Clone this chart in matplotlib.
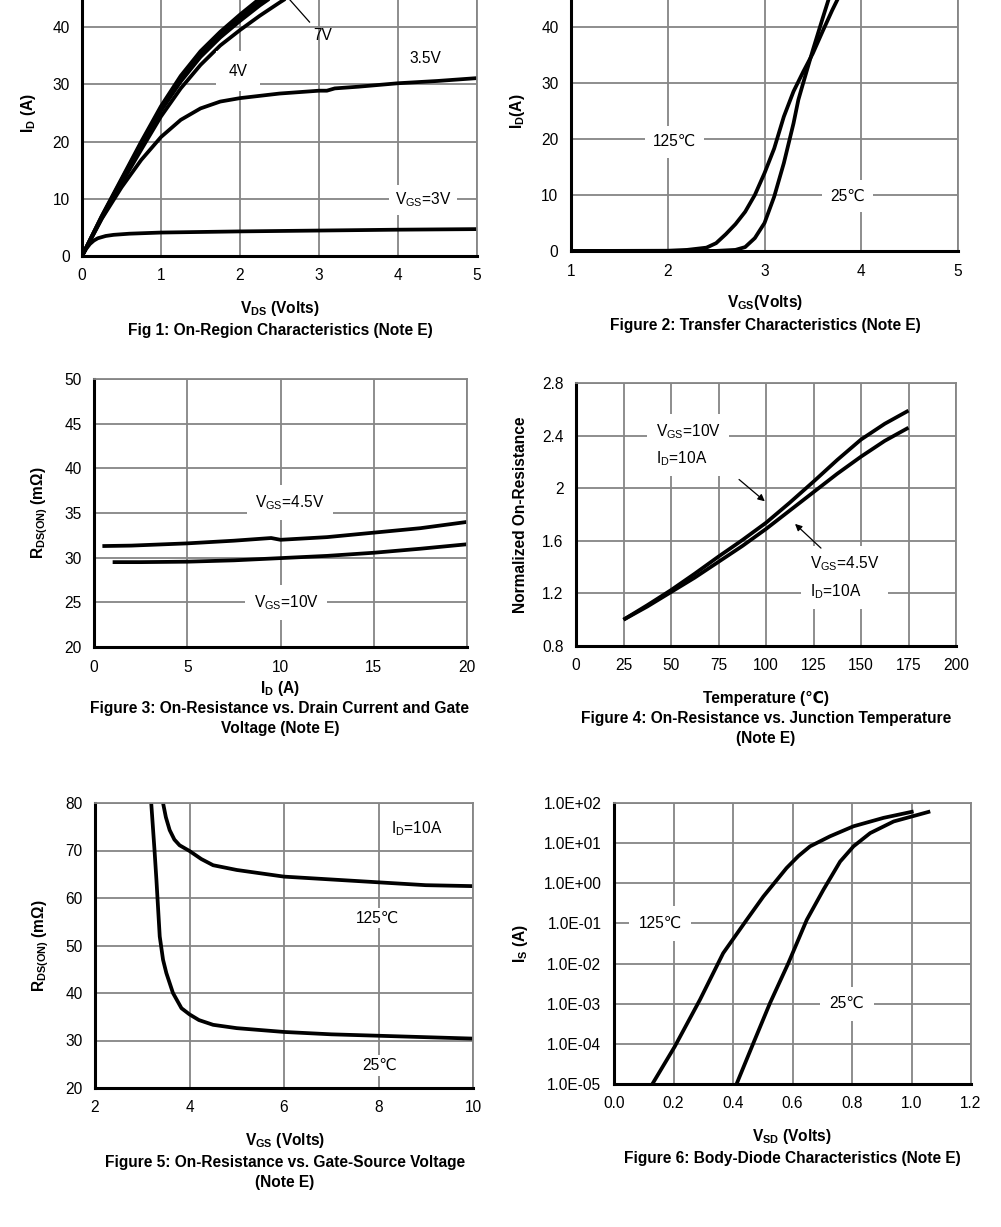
import numpy as np
import matplotlib
matplotlib.use("Agg")
from matplotlib import pyplot as plt

plt.rcParams['font.family'] = ['Liberation Sans', 'DejaVu Sans']
plt.rcParams['mathtext.fontset'] = 'custom'
plt.rcParams['mathtext.rm'] = 'Liberation Sans'
plt.rcParams['mathtext.bf'] = 'Liberation Sans:bold'
plt.rcParams['mathtext.it'] = 'Liberation Sans'

# Fig 1: on-region characteristics
vds1 = [0, 0.25, 0.5, 0.75, 1.0, 1.25, 1.5, 1.75, 2.0, 2.25, 2.5, 2.75, 3.0]
id_10v = [0, 7.0, 13.5, 20.0, 26.2, 31.5, 35.8, 39.2, 42.2, 45.0, 47.4, 49.5, 51.0]
id_7v = [0, 6.9, 13.3, 19.7, 25.8, 31.0, 35.3, 38.8, 41.7, 44.4, 46.8, 49.0, 50.6]
id_45v = [0, 6.8, 13.1, 19.4, 25.4, 30.5, 34.8, 38.2, 41.1, 43.8, 46.2, 48.4, 50.2]
id_4v = [0, 6.6, 12.7, 18.6, 24.4, 29.3, 33.4, 36.8, 39.5, 42.0, 44.3, 46.5, 48.5]
vds_35 = [0, 0.25, 0.5, 0.75, 1.0, 1.25, 1.5, 1.75, 2.0, 2.5, 3.0, 3.1, 3.2, 3.5, 4.0, 4.5, 5.0]
id_35v = [0, 6.5, 12.0, 16.8, 20.8, 23.8, 25.8, 27.0, 27.6, 28.4, 28.9, 28.9, 29.3, 29.6, 30.2, 30.6, 31.1]
vds_3 = [0, 0.05, 0.1, 0.15, 0.2, 0.3, 0.4, 0.6, 1.0, 2.0, 3.0, 4.0, 5.0]
id_3v = [0, 1.2, 2.1, 2.7, 3.1, 3.5, 3.7, 3.9, 4.1, 4.3, 4.45, 4.6, 4.7]

# Fig 2: transfer characteristics
vgs2_125 = [1.0, 2.0, 2.2, 2.4, 2.5, 2.6, 2.7, 2.8, 2.9, 3.0, 3.1, 3.2, 3.3, 3.4, 3.5, 3.6, 3.7, 3.8]
id2_125 = [0, 0.05, 0.2, 0.6, 1.4, 3.0, 4.8, 7.0, 10.0, 13.9, 18.3, 24.0, 28.5, 32.0, 35.3, 39.2, 43.0, 46.5]
vgs2_25 = [1.0, 2.5, 2.7, 2.8, 2.9, 3.0, 3.1, 3.2, 3.3, 3.35, 3.4, 3.5, 3.6, 3.7]
id2_25 = [0, 0.02, 0.2, 0.7, 2.3, 5.0, 9.7, 15.7, 22.8, 27.0, 30.0, 35.9, 41.5, 47.0]

# Fig 3: Rds(on) vs drain current
id3_45 = [0.45, 2, 5, 7.5, 9.5, 10, 12.5, 15, 17.5, 20]
r3_45 = [31.3, 31.35, 31.6, 31.9, 32.2, 32.0, 32.3, 32.8, 33.3, 34.0]
id3_10 = [1, 2.5, 5, 7.5, 10, 12.5, 15, 17.5, 20]
r3_10 = [29.5, 29.5, 29.55, 29.7, 29.95, 30.2, 30.55, 31.0, 31.5]

# Fig 4: normalized Rds(on) vs temperature
temp4 = [25, 37.5, 50, 62.5, 75, 87.5, 100, 112.5, 125, 137.5, 150, 162.5, 175]
rn_10v = [1.0, 1.11, 1.225, 1.35, 1.48, 1.605, 1.737, 1.89, 2.05, 2.215, 2.37, 2.49, 2.59]
rn_45v = [1.0, 1.10, 1.21, 1.32, 1.44, 1.56, 1.69, 1.83, 1.97, 2.11, 2.24, 2.36, 2.46]

# Fig 5: Rds(on) vs gate-source voltage
vgs5_25 = [3.19, 3.26, 3.30, 3.37, 3.44, 3.51, 3.65, 3.83, 4.0, 4.2, 4.5, 5.0, 6.0, 7.0, 8.0, 9.0, 10.0]
r5_25 = [80, 70, 63.8, 51.9, 47.0, 44.2, 40.0, 36.8, 35.5, 34.3, 33.3, 32.6, 31.8, 31.3, 31.0, 30.7, 30.4]
vgs5_125 = [3.44, 3.5, 3.58, 3.68, 3.79, 4.0, 4.25, 4.5, 5.0, 6.0, 7.0, 8.0, 9.0, 10.0]
r5_125 = [80, 77, 74.3, 72.3, 71.1, 69.9, 68.2, 66.9, 65.9, 64.5, 63.9, 63.3, 62.7, 62.5]

# Fig 6: body diode (log10 of Is)
vsd6_125 = [0.129, 0.204, 0.289, 0.367, 0.446, 0.502, 0.580, 0.620, 0.659, 0.726, 0.805, 0.906, 1.007]
logis_125 = [-5.0, -4.07, -2.9, -1.74, -0.91, -0.33, 0.38, 0.68, 0.92, 1.17, 1.42, 1.63, 1.79]
vsd6_25 = [0.412, 0.468, 0.524, 0.586, 0.648, 0.704, 0.760, 0.805, 0.861, 0.940, 1.063]
logis_25 = [-5.0, -3.99, -2.99, -1.99, -0.91, -0.16, 0.54, 0.92, 1.25, 1.54, 1.79]

W, H = 1001, 1227
fig = plt.figure(figsize=(W / 100, H / 100), dpi=100)

GRID = '#858585'
LW = 2.7
FS = 11.2
box = dict(facecolor='white', edgecolor='none', pad=4)


def make_ax(l, t, r, b, xlim, ylim, xticks, yticks, log=False):
    ax = fig.add_axes([l / W, 1 - b / H, (r - l) / W, (b - t) / H])
    if log:
        ax.set_yscale('log')
    ax.set_xlim(*xlim)
    ax.set_ylim(*ylim)
    ax.set_xticks(xticks)
    ax.set_yticks(yticks)
    ax.minorticks_off()
    ax.grid(True, color=GRID, lw=1.3)
    ax.set_axisbelow(True)
    for s in ['top', 'right']:
        ax.spines[s].set_color(GRID)
        ax.spines[s].set_linewidth(1.3)
    for s in ['left', 'bottom']:
        ax.spines[s].set_color('black')
        ax.spines[s].set_linewidth(2.2)
    ax.tick_params(length=0, labelsize=FS, pad=9)
    return ax


def caption(x, y, lines):
    for i, s in enumerate(lines):
        fig.text(x / W, 1 - (y + i * 21) / H, s, ha='center', va='center',
                 fontsize=FS, fontweight='bold')


def line(ax, x, y):
    ax.plot(x, y, color='black', lw=LW, solid_capstyle='butt', solid_joinstyle='round')


# ---- Fig 1 (top of the chart is cut off, as in the source page)
ax1 = make_ax(82, -30, 477, 256, (0, 5), (0, 50), range(0, 6), range(0, 41, 10))
ax1.axhline(50, color=GRID, lw=1.3)
for ys in [id_10v, id_7v, id_45v, id_4v]:
    line(ax1, vds1, ys)
line(ax1, vds_35, id_35v)
line(ax1, vds_3, id_3v)
ax1.text(1.97, 32.3, '4V', ha='center', va='center', fontsize=FS,
         bbox=dict(facecolor='white', edgecolor='none', pad=9))
ax1.text(3.05, 38.6, '7V', ha='center', va='center', fontsize=FS)
ax1.plot([2.63, 2.88], [44.8, 40.9], color='black', lw=0.9)
ax1.text(4.35, 34.6, '3.5V', ha='center', va='center', fontsize=FS)
ax1.text(4.32, 9.8, r'V$_{\mathrm{GS}}$=3V', ha='center', va='center', fontsize=FS, bbox=box)
ax1.set_ylabel(r'$\mathbf{I_D}$ (A)', fontsize=FS, fontweight='bold', labelpad=10)
caption(280, 308, [r'$\mathbf{V_{DS}}$ (Volts)'])
caption(280, 330, ['Fig 1: On-Region Characteristics (Note E)'])

# ---- Fig 2
ax2 = make_ax(571, -29, 958, 251, (1, 5), (0, 50), range(1, 6), range(0, 41, 10))
line(ax2, vgs2_125, id2_125)
line(ax2, vgs2_25, id2_25)
ax2.text(2.07, 19.5, '125℃', ha='center', va='center', fontsize=FS,
         bbox=dict(facecolor='white', edgecolor='none', pad=6))
ax2.text(3.86, 9.8, '25℃', ha='center', va='center', fontsize=FS,
         bbox=dict(facecolor='white', edgecolor='none', pad=6))
ax2.set_ylabel(r'$\mathbf{I_D}$(A)', fontsize=FS, fontweight='bold', labelpad=10)
caption(765, 302, [r'$\mathbf{V_{GS}}$(Volts)'])
caption(765, 325, ['Figure 2: Transfer Characteristics (Note E)'])

# ---- Fig 3
ax3 = make_ax(94, 379, 467, 647, (0, 20), (20, 50), range(0, 21, 5), range(20, 51, 5))
line(ax3, id3_45, r3_45)
line(ax3, id3_10, r3_10)
ax3.text(10.5, 36.2, r'V$_{\mathrm{GS}}$=4.5V', ha='center', va='center', fontsize=FS,
         bbox=dict(facecolor='white', edgecolor='none', pad=6))
ax3.text(10.3, 25.0, r'V$_{\mathrm{GS}}$=10V', ha='center', va='center', fontsize=FS,
         bbox=dict(facecolor='white', edgecolor='none', pad=6))
ax3.set_ylabel(r'$\mathbf{R_{DS(ON)}}$ (m$\mathbf{\Omega}$)', fontsize=FS, fontweight='bold', labelpad=10)
caption(280, 688, [r'$\mathbf{I_D}$ (A)'])
caption(280, 708, ['Figure 3: On-Resistance vs. Drain Current and Gate', 'Voltage (Note E)'])

# ---- Fig 4
ax4 = make_ax(576, 383, 956, 646, (0, 200), (0.8, 2.8), range(0, 201, 25),
              [0.8, 1.2, 1.6, 2.0, 2.4, 2.8])
ax4.set_yticklabels(['0.8', '1.2', '1.6', '2', '2.4', '2.8'])
line(ax4, temp4, rn_10v)
line(ax4, temp4, rn_45v)
ax4.text(42, 2.33, 'V$_{\\mathrm{GS}}$=10V\nI$_{\\mathrm{D}}$=10A', ha='left', va='center',
         fontsize=FS, linespacing=1.6, bbox=dict(facecolor='white', edgecolor='none', pad=6))
ax4.text(123, 1.32, 'V$_{\\mathrm{GS}}$=4.5V\nI$_{\\mathrm{D}}$=10A', ha='left', va='center',
         fontsize=FS, linespacing=1.6, bbox=dict(facecolor='white', edgecolor='none', pad=6))
ax4.annotate('', xy=(100.5, 1.887), xytext=(84.7, 2.08),
             arrowprops=dict(arrowstyle='-|>', color='black', lw=0.9, mutation_scale=10))
ax4.annotate('', xy=(114.2, 1.743), xytext=(130, 1.53),
             arrowprops=dict(arrowstyle='-|>', color='black', lw=0.9, mutation_scale=10))
ax4.set_ylabel('Normalized On-Resistance', fontsize=FS, fontweight='bold', labelpad=10)
caption(766, 698, ['Temperature (℃)'])
caption(766, 718, ['Figure 4: On-Resistance vs. Junction Temperature', '(Note E)'])

# ---- Fig 5
ax5 = make_ax(95, 803, 473, 1088, (2, 10), (20, 80), range(2, 11, 2), range(20, 81, 10))
line(ax5, vgs5_25, r5_25)
line(ax5, vgs5_125, r5_125)
ax5.text(8.8, 74.7, r'I$_{\mathrm{D}}$=10A', ha='center', va='center', fontsize=FS)
ax5.text(7.97, 55.8, '125℃', ha='center', va='center', fontsize=FS,
         bbox=dict(facecolor='white', edgecolor='none', pad=2))
ax5.text(8.03, 24.8, '25℃', ha='center', va='center', fontsize=FS,
         bbox=dict(facecolor='white', edgecolor='none', pad=2))
ax5.set_ylabel(r'$\mathbf{R_{DS(ON)}}$ (m$\mathbf{\Omega}$)', fontsize=FS, fontweight='bold', labelpad=10)
caption(285, 1140, [r'$\mathbf{V_{GS}}$ (Volts)'])
caption(285, 1162, ['Figure 5: On-Resistance vs. Gate-Source Voltage', '(Note E)'])

# ---- Fig 6
yt6 = [1e-5, 1e-4, 1e-3, 1e-2, 1e-1, 1e0, 1e1, 1e2]
ax6 = make_ax(614, 803, 971, 1084, (0, 1.2), (1e-5, 1e2),
              [0, 0.2, 0.4, 0.6, 0.8, 1.0, 1.2], yt6, log=True)
ax6.set_xticklabels(['0.0', '0.2', '0.4', '0.6', '0.8', '1.0', '1.2'])
ax6.set_yticklabels(['1.0E-05', '1.0E-04', '1.0E-03', '1.0E-02', '1.0E-01',
                     '1.0E+00', '1.0E+01', '1.0E+02'])
line(ax6, vsd6_125, 10 ** np.array(logis_125))
line(ax6, vsd6_25, 10 ** np.array(logis_25))
ax6.text(0.155, 1e-1, '125℃', ha='center', va='center', fontsize=FS,
         bbox=dict(facecolor='white', edgecolor='none', pad=7))
ax6.text(0.783, 1e-3, '25℃', ha='center', va='center', fontsize=FS,
         bbox=dict(facecolor='white', edgecolor='none', pad=7))
ax6.set_ylabel(r'$\mathbf{I_S}$ (A)', fontsize=FS, fontweight='bold', labelpad=10)
caption(792, 1136, [r'$\mathbf{V_{SD}}$ (Volts)'])
caption(792, 1159, ['Figure 6: Body-Diode Characteristics (Note E)'])

fig.savefig('out.png', dpi=100)
